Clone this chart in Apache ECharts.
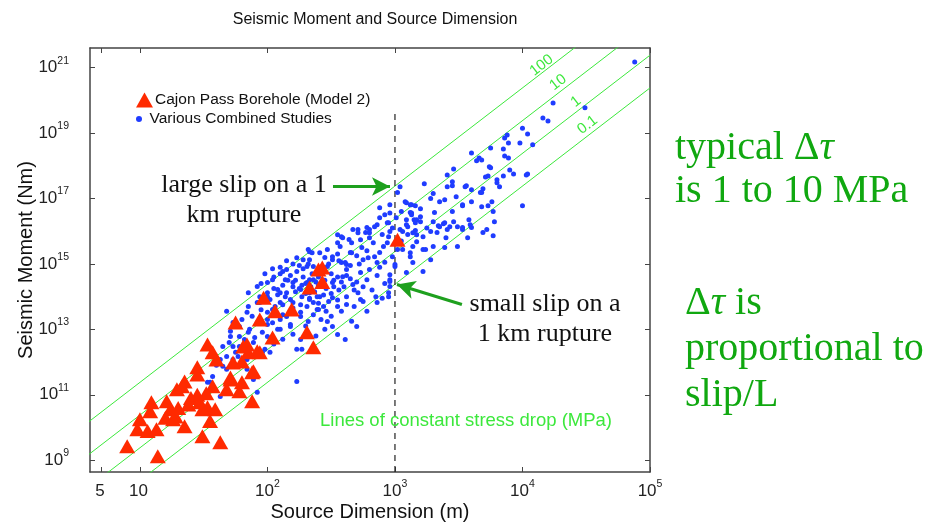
<!DOCTYPE html>
<html>
<head>
<meta charset="utf-8">
<script src="https://cdn.jsdelivr.net/npm/echarts@6.0.0/dist/echarts.min.js"></script>
<style>
html, body { margin: 0; padding: 0; background: #fff; }
#grafico { width: 931px; height: 527px; }
</style>
</head>
<body>
<div id="grafico"></div>
<script>
// --- Datos: pares [log10 dimension (m), log10 momento (Nm)] ---
const cajonPass = [
    [0.90, 9.43], [0.98, 9.95], [1.00, 10.25], [1.06, 9.89], [1.08, 10.50], [1.09, 10.77], [1.13, 9.95], [1.14, 9.12],
    [1.21, 10.80], [1.24, 10.56], [1.28, 10.34], [1.29, 11.17], [1.33, 11.26], [1.35, 11.41], [1.35, 10.04],
    [1.45, 11.84], [1.45, 11.62], [1.49, 9.73], [1.49, 10.56], [1.53, 12.54], [1.57, 12.30], [1.57, 11.26],
    [1.59, 10.56], [1.60, 12.08], [1.63, 9.55], [1.68, 11.17], [1.71, 11.47], [1.71, 11.53], [1.73, 11.99],
    [1.75, 13.21], [1.78, 11.11], [1.80, 11.38], [1.80, 12.02], [1.81, 12.48], [1.84, 12.54], [1.85, 12.30],
    [1.88, 10.80], [1.88, 11.69], [1.89, 11.72], [1.92, 12.33], [1.94, 13.30], [1.94, 12.30], [1.97, 13.97],
    [2.04, 12.75], [2.06, 13.55], [2.19, 13.61], [2.31, 12.91], [2.33, 14.28], [2.36, 12.45], [2.40, 14.83],
    [2.43, 14.89], [2.43, 14.45], [3.02, 15.74],
    [1.40, 10.90], [1.45, 11.00], [1.38, 10.70], [1.30, 10.60], [1.52, 11.05], [1.20, 10.30], [1.55, 10.20],
    [1.26, 10.25], [1.47, 10.77], [1.53, 10.62]
];

const combinedStudies = [
    // grandes rupturas
    [4.88, 21.17], [4.24, 19.92], [4.49, 19.77], [4.16, 19.46], [4.20, 19.37], [4.00, 19.15], [4.04, 18.97], [3.88, 18.94],
    [3.86, 18.85], [3.89, 18.70], [3.98, 18.70], [4.08, 18.64], [3.85, 18.51], [3.60, 18.39], [3.66, 18.24], [3.64, 18.15],
    [3.68, 18.18], [3.86, 18.30], [3.89, 18.24], [3.75, 18.54], [3.74, 17.97], [3.75, 17.94], [3.90, 17.87], [3.46, 17.90],
    [3.41, 17.72], [3.73, 17.69], [3.85, 17.69], [3.93, 17.75], [3.80, 17.57], [3.80, 17.48], [4.04, 17.75], [3.45, 17.51],
    [3.45, 17.39], [3.23, 17.45], [3.56, 17.39], [3.69, 17.30], [3.68, 17.18], [3.30, 17.15], [3.28, 17.00], [3.39, 16.96],
    [3.35, 16.90], [3.60, 16.90], [3.76, 16.90], [3.73, 16.78], [3.53, 16.78], [3.68, 16.75], [4.00, 16.78], [3.20, 16.69],
    [3.13, 16.81], [3.31, 16.57], [3.13, 16.50], [3.15, 16.35], [3.20, 16.29], [3.30, 16.29], [3.38, 16.23], [3.34, 16.17],
    [3.43, 16.14], [3.49, 16.14], [3.53, 16.11], [3.58, 16.35], [3.59, 16.20], [3.60, 16.11], [3.78, 16.29], [3.72, 16.05],
    [3.28, 15.99], [3.33, 15.96], [3.17, 15.89],
    // alrededor de 1 km
    [3.04, 17.36], [3.02, 17.18], [2.96, 16.81], [2.88, 16.72], [2.88, 16.41], [2.95, 16.26], [3.01, 16.41], [3.09, 16.87],
    [3.16, 16.78], [3.12, 16.57], [3.09, 16.35], [3.17, 16.35], [3.10, 16.14], [3.16, 16.02], [3.04, 16.05], [2.96, 15.99],
    [2.95, 15.83], [2.86, 16.20], [2.80, 16.05], [2.77, 15.96], [2.71, 16.05], [2.73, 15.74], [2.66, 15.65], [2.58, 15.83],
    [2.55, 15.65], [2.65, 15.35], [2.74, 15.50], [2.83, 15.65], [2.91, 15.53], [3.17, 15.68], [3.30, 15.53], [3.39, 16.26],
    [3.46, 16.29], [3.53, 16.05], [3.41, 16.05], [3.53, 16.81], [3.35, 16.14], [3.28, 15.13], [3.12, 15.22], [3.06, 15.44],
    [2.94, 15.65], [2.47, 15.44], [2.41, 15.34], [2.33, 15.37], [2.51, 15.13], [2.58, 15.04], [2.62, 14.98], [2.75, 15.13],
    [2.84, 15.22], [3.14, 15.53], [3.22, 15.44], [3.39, 15.50], [3.49, 15.53], [3.57, 15.80], [3.69, 15.96], [3.77, 15.86],
    [3.48, 17.05], [3.60, 17.27], [3.71, 17.66], [3.82, 17.36], [4.03, 17.72], [3.77, 16.60], [3.41, 17.36], [3.67, 17.18],
    [3.55, 17.36],
    [2.32, 15.44], [2.55, 15.89], [2.59, 15.80], [2.67, 16.05], [2.71, 15.95], [2.78, 16.11], [2.80, 15.95], [2.84, 16.14],
    [2.94, 16.26], [2.96, 16.56], [3.08, 16.90], [3.12, 16.81], [3.13, 16.56], [3.20, 16.44], [3.16, 16.26], [3.09, 16.20],
    [3.06, 15.99], [3.14, 15.95], [3.22, 15.83], [3.02, 15.44], [3.12, 15.34], [3.24, 15.44], [2.98, 15.22], [3.00, 14.92],
    [2.96, 14.67], [2.96, 14.52], [2.96, 14.31], [2.95, 14.00], [2.86, 15.04], [2.79, 15.19], [2.80, 14.83], [2.73, 14.74],
    [2.66, 15.34], [2.61, 15.04], [2.62, 14.83], [2.57, 15.53], [2.51, 15.22], [2.47, 14.92], [2.41, 14.83], [2.78, 14.52],
    [2.67, 14.37], [2.59, 14.61], [2.51, 14.43], [2.33, 14.12], [2.41, 14.00], [2.51, 13.97], [2.62, 14.00], [2.71, 14.12],
    [2.73, 13.91], [2.62, 13.76], [2.55, 13.70], [2.44, 13.70], [2.36, 13.82],
    [2.45, 15.20], [2.55, 15.30], [2.70, 15.25], [2.78, 15.40], [2.88, 15.35], [2.92, 15.05], [2.86, 14.65], [2.82, 14.20],
    [2.90, 13.95], [2.68, 13.70], [2.58, 13.55], [2.50, 13.40], [2.42, 13.30], [2.30, 13.10], [2.20, 12.85], [2.12, 12.70],
    [1.90, 12.75], [2.65, 14.95], [2.72, 15.00], [2.88, 14.90], [2.92, 14.40], [2.85, 14.00], [2.75, 13.85], [2.66, 13.25],
    [2.45, 13.00], [2.38, 12.80], [2.05, 12.55], [1.75, 12.30], [1.70, 12.60], [1.60, 11.90], [2.56, 15.10], [2.64, 15.75],
    [2.80, 15.80], [2.90, 15.90], [3.05, 15.70], [3.10, 15.90], [2.98, 16.10], [2.92, 16.50], [3.05, 16.60], [3.25, 16.10],
    [3.45, 16.60], [3.40, 15.80],
    // nube central
    [1.68, 13.55], [1.85, 13.70], [1.92, 13.82], [2.00, 14.12], [2.08, 14.22], [2.14, 14.52], [2.23, 14.77], [2.28, 15.13],
    [2.35, 15.34], [2.20, 14.43], [2.27, 14.00], [2.31, 13.70], [2.15, 13.39], [2.10, 13.00], [2.18, 13.15], [2.00, 13.15],
    [1.96, 12.91], [1.86, 13.00], [1.78, 13.09], [1.82, 12.69], [1.71, 12.94], [1.65, 12.48], [1.73, 12.48], [1.85, 12.91],
    [1.98, 12.39], [2.02, 12.30], [2.23, 12.39], [1.81, 12.08], [1.77, 12.17], [1.63, 12.08], [1.55, 11.38], [1.68, 11.78],
    [2.23, 11.41], [2.00, 13.52], [2.04, 13.61], [2.10, 13.82], [2.18, 13.91], [2.26, 14.22], [2.31, 14.43], [2.36, 14.52],
    [2.39, 14.00], [2.39, 13.61], [2.36, 14.92], [2.33, 15.13], [2.23, 15.19], [2.12, 14.77], [2.04, 14.52], [2.00, 14.43],
    [1.92, 14.31], [1.85, 14.12], [1.94, 14.00], [2.02, 13.91], [2.08, 14.06], [2.15, 14.12], [2.20, 13.82], [2.26, 13.39],
    [2.32, 13.24], [2.15, 14.83],
    [2.61, 12.69], [2.70, 13.09], [2.78, 13.55], [2.86, 13.82], [2.95, 14.12], [2.96, 14.46], [3.00, 14.98], [3.09, 14.74],
    [3.22, 14.77], [3.14, 15.04], [2.51, 13.09], [2.47, 13.24], [2.55, 12.84], [2.40, 13.61], [2.33, 13.91],
    [1.84, 13.52], [1.73, 13.21], [1.71, 12.78], [1.78, 12.78], [1.89, 12.60], [1.68, 12.17], [1.73, 12.08], [1.65, 11.87],
    [1.53, 11.38], [1.57, 11.56], [1.63, 10.95], [1.92, 11.08], [1.84, 11.78], [1.89, 11.47], [1.84, 12.08], [1.96, 12.30],
    [1.78, 12.48], [2.00, 12.78], [2.08, 13.00], [2.18, 13.09], [2.26, 13.52], [2.18, 13.52], [2.10, 13.30], [2.00, 13.30],
    [1.92, 13.21], [2.33, 14.52], [2.31, 14.92], [2.10, 14.12], [2.00, 14.00], [1.94, 13.82], [2.26, 12.69], [2.27, 12.39],
    [2.05, 14.60], [2.10, 14.70], [2.18, 14.65], [2.22, 14.50], [2.28, 14.60], [2.35, 14.70], [2.40, 14.60], [2.45, 14.50],
    [2.50, 14.70], [2.55, 14.60], [2.58, 14.45], [2.12, 14.35], [2.20, 14.30], [2.27, 14.35], [2.34, 14.30], [2.40, 14.35],
    [2.46, 14.25], [2.52, 14.30], [2.56, 14.20], [2.14, 14.00], [2.22, 14.15], [2.30, 14.10], [2.37, 14.15], [2.44, 14.05],
    [2.50, 14.10], [2.05, 14.25], [1.95, 14.40], [2.28, 14.85], [2.42, 14.90], [2.48, 15.00], [2.38, 14.45], [2.30, 14.40],
    [2.25, 14.25], [2.16, 14.50], [2.44, 14.75], [2.52, 14.50], [2.60, 14.30], [2.65, 14.55], [2.68, 14.20], [2.70, 14.45],
    [2.75, 14.30], [2.62, 14.65], [2.33, 13.95], [2.26, 13.75], [2.20, 13.65], [2.12, 13.75], [2.06, 13.70], [2.40, 13.80],
    [2.48, 13.85], [2.55, 13.90], [2.46, 13.55], [2.36, 13.45], [2.12, 13.45], [2.04, 13.20], [1.88, 13.40], [1.80, 13.30],
    [1.95, 13.60], [2.32, 15.00], [2.20, 15.00], [2.25, 14.95], [2.10, 14.90], [2.04, 14.85], [2.15, 15.10], [1.98, 14.70]
];

// --- Lineas de caida de esfuerzo constante (MPa): log10 momento en L = 1 m y en L = 1e5 m ---
const stressLabels = ["100", "10", "1", "0.1"];
const stressLineStart = [8.38, 7.38, 6.38, 5.38];
const stressLineEnd = [23.38, 22.38, 21.38, 20.38];
const stressLabelAt = [[4.15, 21.07], [4.28, 20.55], [4.42, 19.96], [4.51, 19.25]];

// --- Ejes ---
const xMin = 4.06, xMax = 1e5;
const yMin = 4.37e8, yMax = 3.98e21;
const xTicks = [5, 10, 100, 1000, 10000, 100000];
const yTicks = [1e9, 1e11, 1e13, 1e15, 1e17, 1e19, 1e21];

// --- Ruptura de 1 km y flechas (log10) ---
const ruptureL = 1000;
const ruptureTop = 19.65;
const arrowLarge = [[2.514, 17.366], [2.961, 17.366]];
const arrowSmall = [[3.525, 13.76], [3.016, 14.37]];

const p10 = (v) => Math.pow(10, v);
const toData = (arr) => arr.map((d) => [p10(d[0]), p10(d[1])]);

const sans = "Liberation Sans";
const serif = "Liberation Serif";
const axisColor = "#444";
const lineGreen = "#3ce83c";
const textGreen = "#10a810";

function powLabel(v) {
    if (v === 5) return "{b|5}{sup| }";
    const e = Math.round(Math.log10(v));
    if (e === 1) return "{b|10}{sup| }";
    return "{b|10}{sup|" + e + "}";
}
const richLabel = {
    b: { fontSize: 17, fontFamily: sans, color: "#222" },
    sup: { fontSize: 10.5, fontFamily: sans, color: "#222", padding: [0, 0, 14, 0] }
};

var myChart = echarts.init(document.getElementById("grafico"));

const stressSeries = stressLabels.map((lab, i) => ({
    name: "stress " + lab,
    type: "line",
    data: [[1, p10(stressLineStart[i])], [1e5, p10(stressLineEnd[i])]],
    showSymbol: false,
    silent: true,
    clip: true,
    lineStyle: { color: lineGreen, width: 1 },
    z: 1,
    markPoint: {
        symbol: "circle",
        symbolSize: 1,
        itemStyle: { color: "transparent" },
        silent: true,
        data: [{
            coord: [p10(stressLabelAt[i][0]), p10(stressLabelAt[i][1])],
            label: {
                show: true,
                formatter: lab,
                rotate: 37.7,
                color: lineGreen,
                fontSize: 15,
                fontFamily: sans
            }
        }]
    }
}));

myChart.setOption({
    animation: false,
    title: {
        text: "Seismic Moment and Source Dimension",
        left: 370,
        top: 7,
        textAlign: "center",
        textStyle: { fontSize: 16, fontWeight: "normal", fontFamily: sans, color: "#111" }
    },
    legend: [
        {
            data: [{ name: "Cajon Pass Borehole (Model 2)", icon: "triangle" }],
            left: 131,
            top: 87,
            itemWidth: 17,
            itemHeight: 15,
            itemGap: 0,
            selectedMode: false,
            textStyle: { fontSize: 15.5, fontFamily: sans, color: "#111", padding: [0, 0, 0, -3] }
        },
        {
            data: [{ name: "Various Combined Studies", icon: "circle" }],
            left: 131,
            top: 106,
            itemWidth: 17,
            itemHeight: 6,
            selectedMode: false,
            textStyle: { fontSize: 15.5, fontFamily: sans, color: "#111", padding: [0, 0, 0, -3] }
        }
    ],
    grid: { left: 90, right: 281, top: 48, bottom: 54 },
    xAxis: [
        {
            type: "log",
            logBase: 10,
            min: xMin,
            max: xMax,
            position: "bottom",
            name: "Source Dimension (m)",
            nameLocation: "middle",
            nameGap: 30,
            nameMoveOverlap: false,
            nameTextStyle: { fontSize: 20, fontFamily: sans, color: "#111" },
            axisLine: { show: true, onZero: false, lineStyle: { color: axisColor, width: 1.5 } },
            axisTick: { show: true, inside: true, length: 5, customValues: xTicks, lineStyle: { color: axisColor } },
            axisLabel: { customValues: xTicks, formatter: powLabel, margin: 7, rich: richLabel },
            splitLine: { show: false },
            minorTick: { show: false }
        },
        {
            type: "log",
            logBase: 10,
            min: xMin,
            max: xMax,
            position: "top",
            axisLine: { show: true, onZero: false, lineStyle: { color: axisColor, width: 1.5 } },
            axisTick: { show: true, inside: true, length: 5, customValues: xTicks, lineStyle: { color: axisColor } },
            axisLabel: { show: false },
            splitLine: { show: false }
        }
    ],
    yAxis: [
        {
            type: "log",
            logBase: 10,
            min: yMin,
            max: yMax,
            position: "left",
            name: "Seismic Moment (Nm)",
            nameLocation: "middle",
            nameGap: 54,
            nameMoveOverlap: false,
            nameTextStyle: { fontSize: 20, fontFamily: sans, color: "#111" },
            axisLine: { show: true, onZero: false, lineStyle: { color: axisColor, width: 1.5 } },
            axisTick: { show: true, inside: true, length: 5, customValues: yTicks, lineStyle: { color: axisColor } },
            axisLabel: { customValues: yTicks, formatter: powLabel, margin: 21, rich: richLabel },
            splitLine: { show: false }
        },
        {
            type: "log",
            logBase: 10,
            min: yMin,
            max: yMax,
            position: "right",
            axisLine: { show: true, onZero: false, lineStyle: { color: axisColor, width: 1.5 } },
            axisTick: { show: true, inside: true, length: 5, customValues: yTicks, lineStyle: { color: axisColor } },
            axisLabel: { show: false },
            splitLine: { show: false }
        }
    ],
    series: stressSeries.concat([
        {
            name: "1 km",
            type: "line",
            data: [[ruptureL, yMin], [ruptureL, p10(ruptureTop)]],
            showSymbol: false,
            silent: true,
            lineStyle: { color: "#222", width: 1.2, type: [6, 5] },
            z: 1,
            markLine: {
                silent: true,
                symbol: ["none", "arrow"],
                symbolSize: [14, 18],
                label: { show: false },
                lineStyle: { color: "#1ea01e", width: 3, type: "solid" },
                data: [
                    [{ coord: [p10(arrowLarge[0][0]), p10(arrowLarge[0][1])] }, { coord: [p10(arrowLarge[1][0]), p10(arrowLarge[1][1])] }],
                    [{ coord: [p10(arrowSmall[0][0]), p10(arrowSmall[0][1])] }, { coord: [p10(arrowSmall[1][0]), p10(arrowSmall[1][1])] }]
                ]
            }
        },
        {
            name: "Various Combined Studies",
            type: "scatter",
            data: toData(combinedStudies),
            symbol: "circle",
            symbolSize: 5,
            itemStyle: { color: "#1f3cff", opacity: 1 },
            z: 3
        },
        {
            name: "Cajon Pass Borehole (Model 2)",
            type: "scatter",
            data: toData(cajonPass),
            symbol: "triangle",
            symbolSize: [16, 14],
            itemStyle: { color: "#ff2a00", opacity: 1 },
            z: 4
        }
    ]),
    graphic: [
        {
            type: "text", x: 244, y: 170, z: 10,
            style: { text: "large slip on a 1\nkm rupture", textAlign: "center", font: "26px " + serif, lineHeight: 30, fill: "#111" }
        },
        {
            type: "text", x: 545, y: 289, z: 10,
            style: { text: "small slip on a\n1 km rupture", textAlign: "center", font: "26px " + serif, lineHeight: 30, fill: "#111" }
        },
        {
            type: "text", left: 320, top: 411, z: 10,
            style: { text: "Lines of constant stress drop (MPa)", font: "18.5px " + sans, fill: lineGreen }
        },
        {
            type: "text", left: 675, top: 127, z: 10,
            style: {
                text: "typical Δ{i|τ}\nis 1 to 10 MPa",
                font: "40px " + serif, lineHeight: 43, fill: textGreen,
                rich: { i: { fontStyle: "italic", fontSize: 40, fontFamily: serif, fill: textGreen, lineHeight: 43 } }
            }
        },
        {
            type: "text", left: 685, top: 280, z: 10,
            style: {
                text: "Δ{i|τ} is\nproportional to\nslip/L",
                font: "40px " + serif, lineHeight: 46, fill: textGreen,
                rich: { i: { fontStyle: "italic", fontSize: 40, fontFamily: serif, fill: textGreen, lineHeight: 46 } }
            }
        }
    ]
});
</script>
</body>
</html>
